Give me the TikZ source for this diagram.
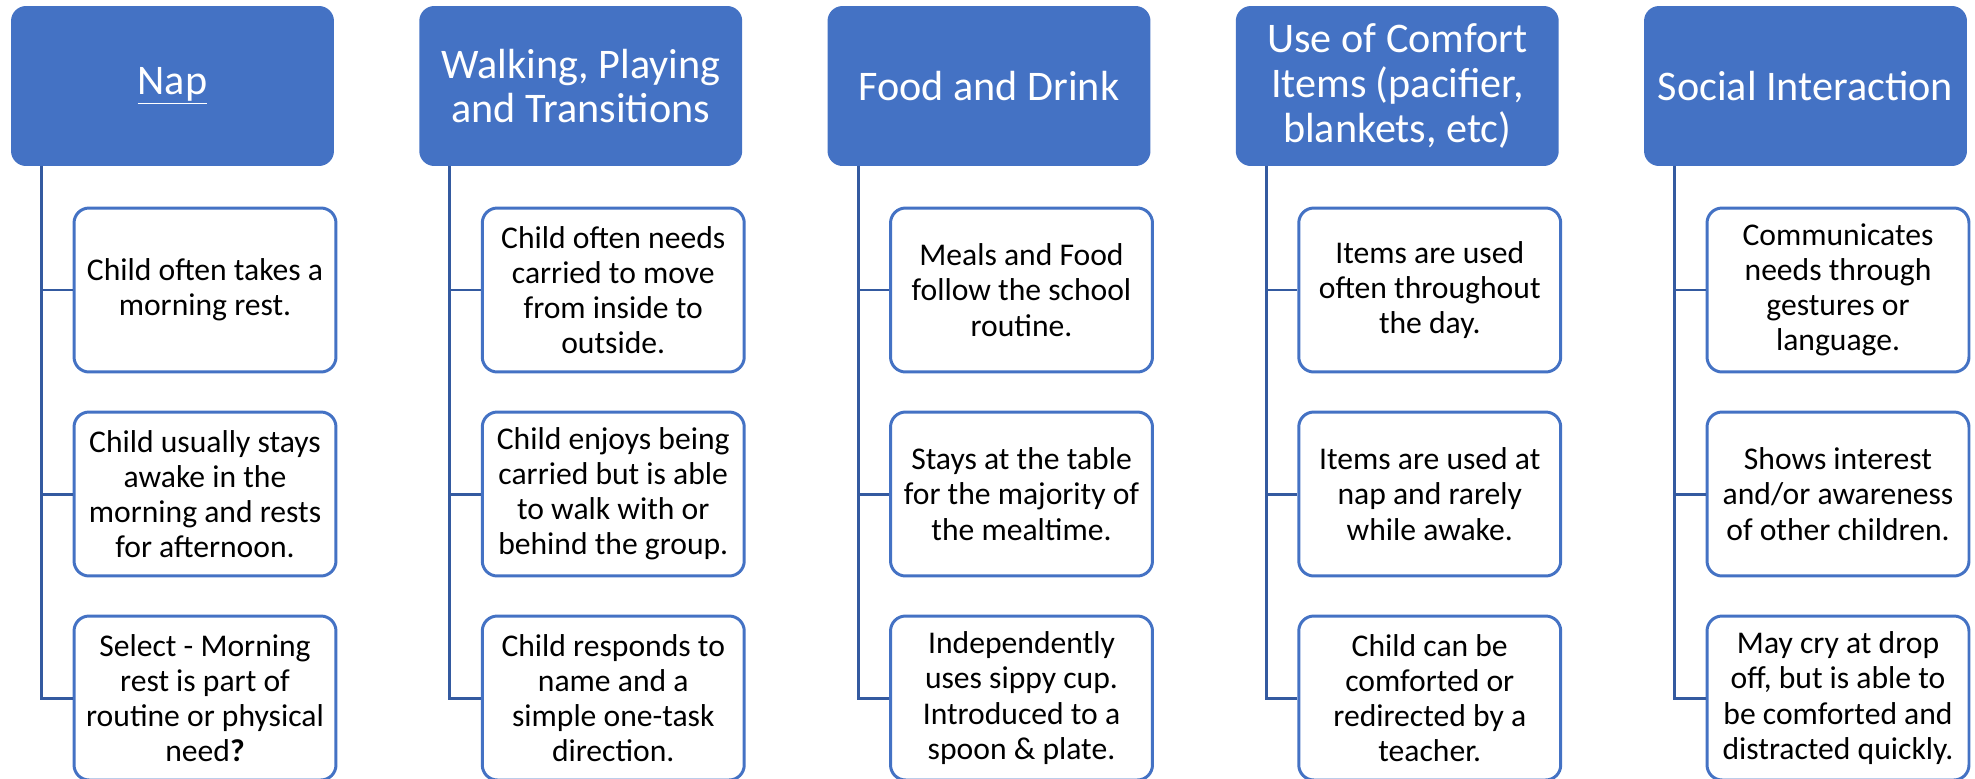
\documentclass[tikz,border=0pt]{standalone}
\usepackage{fontspec}
\setmainfont{Carlito}
\usetikzlibrary{positioning,calc}
\definecolor{headblue}{RGB}{68,114,196}
\definecolor{lineblue}{RGB}{52,90,160}

\begin{document}
\begin{tikzpicture}[x=0.02cm, y=-0.02cm,
  head/.style={fill=headblue, draw=none, rounded corners=0.3cm, minimum width=6.46cm, minimum height=3.2cm, text=white, align=center, font=\fontsize{24pt}{25.6pt}\selectfont},
  item/.style={draw=headblue, fill=white, line width=1.7pt, rounded corners=0.3cm, minimum width=5.24cm, minimum height=3.28cm, align=center, inner sep=2pt, font=\fontsize{18pt}{20pt}\selectfont},
  conn/.style={draw=lineblue, line width=1.7pt}]
  \useasboundingbox (0,0) rectangle (1975,778);

  % Headers
  \node[head] (nap) at (172.5,86) {\underline{Nap}};
  \node[head] (walk) at (580.75,86) {Walking, Playing\\and Transitions};
  \node[head] (food) at (989,86) {Food and Drink};
  \node[head] (comf) at (1397.25,86) {Use of Comfort\\Items (pacifier,\\blankets, etc)};
  \node[head] (soc) at (1805.5,86) {Social Interaction};

  % Nap
  \node[item] (nap1) at (205,290) {Child often takes a\\morning rest.};
  \node[item] (nap2) at (205,494) {Child usually stays\\awake in the\\morning and rests\\for afternoon.};
  \node[item] (nap3) at (205,698) {Select - Morning\\rest is part of\\routine or physical\\need\textbf{?}};

  % Walking, playing
  \node[item] (walk1) at (613.25,290) {Child often needs\\carried to move\\from inside to\\outside.};
  \node[item] (walk2) at (613.25,494) {Child enjoys being\\carried but is able\\to walk with or\\behind the group.};
  \node[item] (walk3) at (613.25,698) {Child responds to\\name and a\\simple one-task\\direction.};

  % Food
  \node[item] (food1) at (1021.5,290) {Meals and Food\\follow the school\\routine.};
  \node[item] (food2) at (1021.5,494) {Stays at the table\\for the majority of\\the mealtime.};
  \node[item] (food3) at (1021.5,698) {Independently\\uses sippy cup.\\Introduced to a\\spoon \& plate.};

  % Comfort items
  \node[item] (comf1) at (1429.75,290) {Items are used\\often throughout\\the day.};
  \node[item] (comf2) at (1429.75,494) {Items are used at\\nap and rarely\\while awake.};
  \node[item] (comf3) at (1429.75,698) {Child can be\\comforted or\\redirected by a\\teacher.};

  % Social
  \node[item] (soc1) at (1838,290) {Communicates\\needs through\\gestures or\\language.};
  \node[item] (soc2) at (1838,494) {Shows interest\\and/or awareness\\of other children.};
  \node[item] (soc3) at (1838,698) {May cry at drop\\off, but is able to\\be comforted and\\distracted quickly.};

  % Tree lines
  \coordinate (napx) at ([xshift=0.62cm]nap.south west);
  \coordinate (walkx) at ([xshift=0.62cm]walk.south west);
  \coordinate (foodx) at ([xshift=0.62cm]food.south west);
  \coordinate (comfx) at ([xshift=0.62cm]comf.south west);
  \coordinate (socx) at ([xshift=0.62cm]soc.south west);
  \draw[conn] (napx) |- (nap1.west) (napx) |- (nap2.west) (napx) |- (nap3.west);
  \draw[conn] (walkx) |- (walk1.west) (walkx) |- (walk2.west) (walkx) |- (walk3.west);
  \draw[conn] (foodx) |- (food1.west) (foodx) |- (food2.west) (foodx) |- (food3.west);
  \draw[conn] (comfx) |- (comf1.west) (comfx) |- (comf2.west) (comfx) |- (comf3.west);
  \draw[conn] (socx) |- (soc1.west) (socx) |- (soc2.west) (socx) |- (soc3.west);
\end{tikzpicture}
\end{document}
